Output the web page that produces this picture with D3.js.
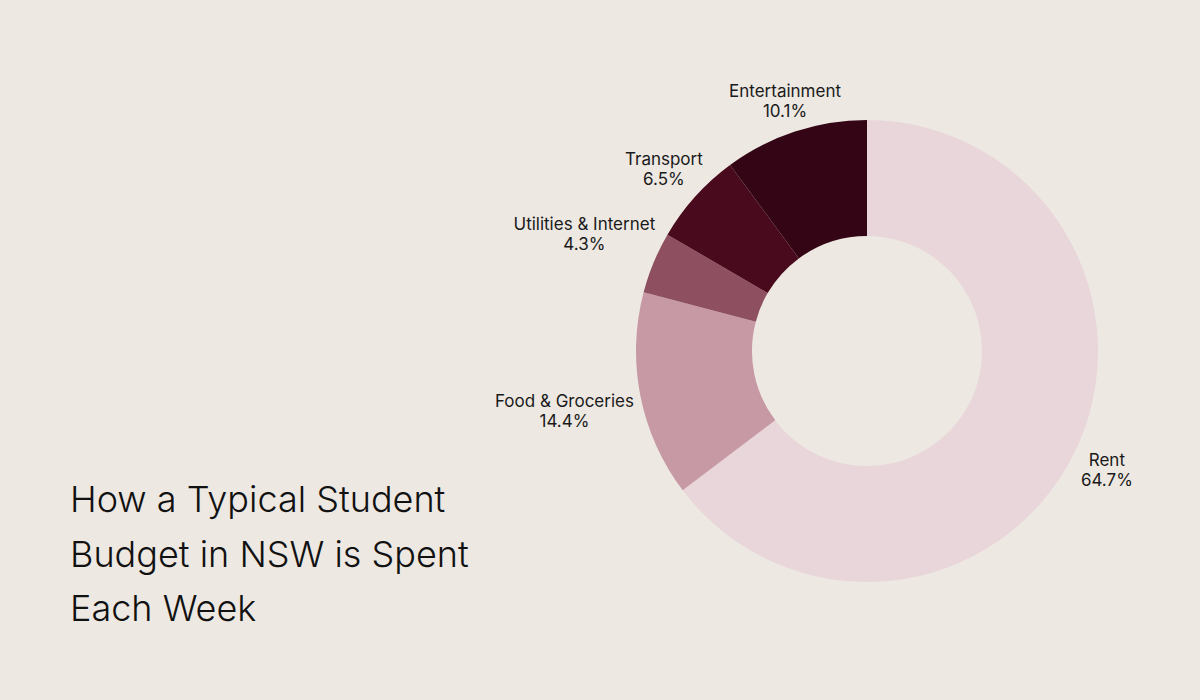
<!DOCTYPE html>
<html><head><meta charset="utf-8">
<script src="https://cdn.jsdelivr.net/npm/d3@7"></script>
<style>body{margin:0;background:#ede8e2;}svg{display:block}</style>
</head><body>
<svg id="c" width="1200" height="700"></svg>
<script>
const categories = ["Rent","Food & Groceries","Utilities & Internet","Transport","Entertainment"];
const values = [64.7,14.4,4.3,6.5,10.1];
const colors = ["#e9d6da","#c799a5","#8e5060","#4a0a1e","#330515"];
const titleLines = ["How a Typical Student","Budget in NSW is Spent","Each Week"];

const svg = d3.select("#c");
svg.append("rect").attr("width",1200).attr("height",700).attr("fill","#ede8e2");
const cx=867, cy=351, R=231, r0=115;
const data = categories.map((c,i)=>({name:c,value:values[i],color:colors[i]}));
const pie = d3.pie().value(d=>d.value).sort(null);
const arc = d3.arc().innerRadius(r0).outerRadius(R);
const g = svg.append("g").attr("transform",`translate(${cx},${cy})`);
const arcs = pie(data);
g.selectAll("path").data(arcs).join("path").attr("d",arc).attr("fill",d=>d.data.color);

arcs.forEach(a=>{
  const mid=(a.startAngle+a.endAngle)/2;
  const t=g.append("text").attr("font-family","Inter, sans-serif").attr("font-size",17)
    .attr("fill","#1a1a1a").attr("text-anchor","middle");
  const t1=t.append("tspan").attr("x",0).attr("dy",-4).text(a.data.name);
  const t2=t.append("tspan").attr("x",0).attr("dy",20).text(a.data.value.toFixed(1)+"%");
  const w=Math.max(t1.node().getComputedTextLength(),t2.node().getComputedTextLength());
  const dist=247+0.45*w*Math.abs(Math.sin(mid));
  t.attr("transform",`translate(${dist*Math.sin(mid)},${-dist*Math.cos(mid)})`);
});

svg.append("text").attr("font-family","Inter, sans-serif").attr("font-weight",300)
  .attr("font-size",36).attr("fill","#111")
  .selectAll("tspan").data(titleLines).join("tspan")
  .attr("x",70).attr("y",(d,i)=>512+i*54.5).text(d=>d);
</script>
</body></html>
